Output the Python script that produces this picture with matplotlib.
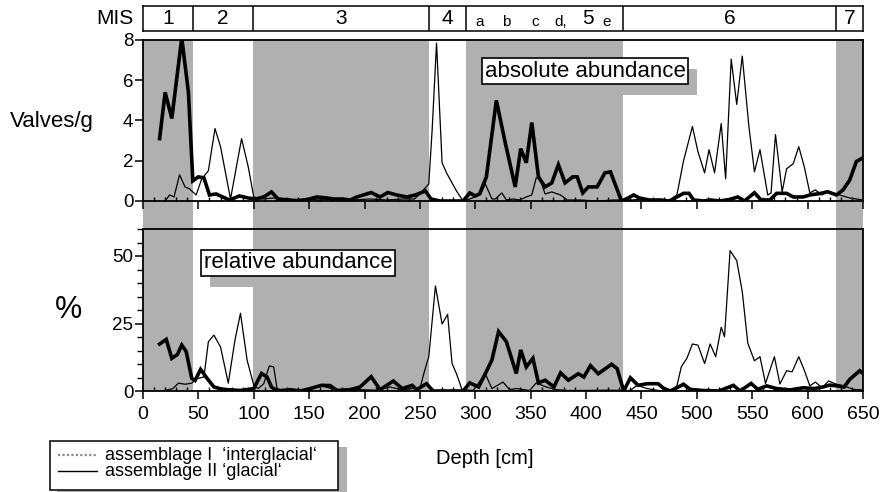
import matplotlib.pyplot as plt
import matplotlib.patheffects as pe
from matplotlib.patches import Rectangle
from matplotlib.lines import Line2D
from matplotlib.ticker import MultipleLocator

plt.rcParams['font.family'] = ['Liberation Sans', 'DejaVu Sans']

# --- absolute abundance (valves/g) ---
abs_I_depth = [15, 20, 26, 35, 41, 45, 50, 55, 60, 66, 72, 78, 87, 95, 102, 109, 116, 122, 132,
               141, 150, 157, 166, 172, 180, 187, 193, 199, 206, 214, 221, 229, 238, 246, 255,
               260, 268, 277, 289, 295, 300, 304, 310, 319, 327, 336, 341, 346, 351, 357, 363,
               369, 375, 381, 388, 392, 397, 402, 410, 417, 422, 432, 438, 443, 448, 457, 467,
               475, 482, 488, 493, 497, 506, 512, 521, 530, 537, 543, 552, 558, 566, 572, 581,
               587, 596, 602, 612, 618, 626, 632, 638, 644, 650]
abs_I = [3.1, 5.4, 4.1, 8.1, 5.4, 1.0, 1.2, 1.15, 0.3, 0.35, 0.2, 0.05, 0.25, 0.15, 0.1, 0.2, 0.45,
         0.1, 0.05, 0.0, 0.1, 0.2, 0.15, 0.1, 0.1, 0.05, 0.2, 0.3, 0.42, 0.2, 0.42, 0.3, 0.2, 0.3,
         0.5, 0.1, 0.0, 0.0, 0.0, 0.4, 0.25, 0.36, 1.2, 5.0, 2.9, 0.7, 2.6, 1.9, 3.9, 1.2, 0.7,
         0.9, 1.8, 0.9, 1.2, 1.2, 0.4, 0.7, 0.7, 1.4, 1.45, 0.0, 0.15, 0.3, 0.15, 0.05, 0.05,
         0.0, 0.2, 0.38, 0.38, 0.05, 0.0, 0.05, 0.0, 0.08, 0.2, 0.0, 0.41, 0.05, 0.05, 0.38, 0.38,
         0.2, 0.2, 0.3, 0.38, 0.46, 0.3, 0.55, 1.04, 1.96, 2.15]

abs_II_depth = [20, 24, 28, 33, 38, 42, 48, 53, 59, 65, 70, 79, 89, 95, 100, 108, 118, 130, 145,
                160, 175, 190, 205, 220, 235, 245, 250, 258, 261, 265, 270, 274, 283, 289, 295,
                304, 309, 315, 318, 324, 328, 334, 340, 346, 351, 355, 358, 363, 369, 377, 383,
                395, 410, 425, 440, 449, 458, 471, 476, 482, 488, 496, 501, 507, 511, 516, 522,
                526, 531, 536, 541, 547, 552, 557, 564, 567, 571, 577, 581, 587, 592, 597, 602,
                607, 613, 617, 623, 629, 638, 650]
abs_II = [0.0, 0.3, 0.2, 1.3, 0.7, 0.6, 0.3, 1.1, 1.5, 3.6, 2.7, 0.1, 3.1, 1.7, 0.2, 0.1, 0.15,
          0.05, 0.1, 0.05, 0.1, 0.05, 0.1, 0.05, 0.1, 0.1, 0.35, 0.85, 3.5, 7.85, 1.9, 1.4, 0.5,
          0.0, 0.1, 0.3, 0.85, 0.1, 0.1, 0.4, 0.05, 0.1, 0.05, 0.2, 0.3, 1.15, 1.15, 0.35, 0.45,
          0.3, 0.05, 0.05, 0.0, 0.05, 0.05, 0.08, 0.05, 0.0, 0.05, 0.3, 2.0, 3.7, 2.45, 1.4, 2.55,
          1.4, 3.85, 1.1, 7.05, 4.8, 7.2, 3.7, 1.45, 2.55, 0.3, 0.4, 3.3, 0.45, 1.6, 1.85, 2.7,
          1.7, 0.4, 0.55, 0.3, 0.45, 0.4, 0.3, 0.15, 0.05]

# --- relative abundance (%) ---
rel_I_depth = [15, 21, 26, 31, 35, 39, 44, 47, 52, 58, 64, 70, 76, 88, 100, 107, 112, 116, 121,
               133, 142, 151, 161, 169, 175, 187, 196, 206, 214, 226, 234, 243, 247, 256, 262,
               275, 289, 295, 303, 309, 315, 321, 328, 337, 341, 346, 352, 357, 363, 371, 377,
               384, 393, 398, 404, 411, 423, 428, 434, 440, 447, 455, 465, 470, 476, 482, 488,
               494, 505, 520, 533, 539, 549, 555, 563, 572, 584, 596, 606, 614, 620, 626, 633,
               638, 647, 650]
rel_I = [17.4, 19.1, 12.1, 13.5, 17.0, 14.6, 4.7, 3.9, 8.0, 4.6, 1.5, 0.8, 0.5, 0.2, 0.9, 6.5,
         5.2, 1.5, 0.0, 0.5, 0.0, 0.9, 2.1, 2.0, 0.2, 0.5, 1.5, 5.3, 0.5, 3.7, 0.9, 2.1, 0.5, 2.7,
         0.0, 0.0, 0.0, 3.0, 1.5, 6.4, 11.5, 22.0, 18.3, 6.5, 15.2, 8.9, 12.1, 3.0, 4.0, 1.5, 6.7,
         4.0, 6.4, 5.2, 9.4, 6.4, 9.9, 8.3, 0.0, 4.9, 2.1, 2.7, 2.7, 1.0, 0.0, 1.2, 2.5, 0.6, 0.2,
         0.0, 2.1, 0.0, 2.8, 0.6, 1.9, 0.9, 0.4, 1.2, 0.9, 1.5, 2.2, 1.9, 1.5, 4.3, 7.5, 6.5]

rel_II_depth = [20, 27, 32, 38, 44, 49, 55, 59, 64, 70, 77, 83, 88, 94, 100, 104, 109, 114, 118,
                121, 127, 140, 150, 160, 170, 180, 195, 210, 223, 235, 241, 250, 254, 258, 264,
                270, 275, 279, 283, 288, 298, 309, 315, 325, 331, 337, 349, 355, 364, 373, 383,
                400, 420, 435, 440, 446, 455, 465, 476, 482, 486, 491, 496, 501, 507, 512, 517,
                522, 525, 530, 536, 541, 546, 552, 557, 562, 570, 575, 581, 586, 592, 597, 602,
                607, 613, 619, 626, 633, 641, 650]
rel_II = [0.2, 0.9, 2.9, 2.5, 2.9, 4.6, 5.2, 18.2, 20.7, 16.3, 2.9, 18.8, 28.8, 11.4, 2.1, 0.9,
          2.7, 9.3, 8.9, 0.9, 0.2, 0.5, 0.3, 2.1, 0.9, 0.3, 0.5, 0.3, 1.5, 0.3, 0.9, 0.9, 7.2,
          12.7, 38.9, 24.8, 28.4, 10.2, 6.4, 0.5, 0.2, 6.4, 0.9, 3.3, 0.5, 0.9, 0.2, 3.0, 1.5,
          0.5, 0.2, 0.2, 0.3, 0.2, 0.2, 2.1, 0.9, 0.2, 0.0, 1.9, 9.0, 12.1, 17.4, 17.0, 10.2,
          17.4, 12.7, 23.6, 20.1, 52.0, 48.3, 36.8, 17.7, 11.2, 12.7, 2.8, 12.7, 2.6, 7.5, 7.1,
          12.7, 7.7, 1.9, 3.3, 1.2, 3.7, 2.5, 1.9, 0.6, 0.4]

# marine isotope stages
mis_bounds = [0, 45, 99, 258, 292, 433, 626, 650]
mis_labels = ['1', '2', '3', '4', '', '6', '7']
warm_stages = [(0, 45), (99, 258), (292, 433), (626, 650)]

W, H = 886, 492
shade = '#b0b0b0'


def fx(px):
    return px / W


def fy(py):
    return 1 - py / H


x0, x1 = 143, 863
up_top, up_bot = 40, 201
lo_top, lo_bot = 229, 391

fig = plt.figure(figsize=(W / 100, H / 100), dpi=100)

# shaded stages run through both panels
ax_bg = fig.add_axes([fx(x0), fy(lo_bot), fx(x1) - fx(x0), fy(up_top) - fy(lo_bot)])
ax_bg.set_xlim(0, 650)
ax_bg.axis('off')
for a, b in warm_stages:
    ax_bg.axvspan(a, b, color=shade, lw=0)

ax_up = fig.add_axes([fx(x0), fy(up_bot), fx(x1) - fx(x0), fy(up_top) - fy(up_bot)], facecolor='none')
ax_lo = fig.add_axes([fx(x0), fy(lo_bot), fx(x1) - fx(x0), fy(lo_top) - fy(lo_bot)], facecolor='none')

ax_up.plot(abs_II_depth, abs_II, color='black', lw=0.9)
ax_up.plot(abs_I_depth, abs_I, color='black', lw=2.6, solid_joinstyle='miter')
ax_lo.plot(rel_II_depth, rel_II, color='black', lw=0.9)
ax_lo.plot(rel_I_depth, rel_I, color='black', lw=2.6, solid_joinstyle='miter')

ax_up.set_ylim(0, 8)
ax_up.set_yticks([0, 2, 4, 6, 8])
ax_lo.set_ylim(0, 60)
ax_lo.set_yticks([0, 25, 50])
ax_lo.yaxis.set_minor_locator(MultipleLocator(5))

for ax in (ax_up, ax_lo):
    ax.set_xlim(0, 650)
    ax.xaxis.set_major_locator(MultipleLocator(50))
    ax.xaxis.set_minor_locator(MultipleLocator(10))
    for s in ax.spines.values():
        s.set_linewidth(1.3)
    ax.tick_params(axis='y', which='major', direction='out', length=6, width=1.1,
                   labelsize=13.5, pad=1)
    ax.tick_params(axis='y', which='minor', direction='out', length=4, width=1)
    ax.tick_params(axis='x', which='major', direction='out', length=6, width=1.1,
                   labelsize=14, pad=5)
    ax.tick_params(axis='x', which='minor', direction='in', length=3, width=1)
ax_up.tick_params(axis='x', labelbottom=False)

box_shadow = [pe.withSimplePatchShadow(offset=(6.5, -8), shadow_rgbFace=shade, alpha=1)]
t1 = ax_up.text(399, 6.45, 'absolute abundance', fontsize=16, ha='center', va='center',
                bbox=dict(boxstyle='square,pad=0.12', fc='white', ec='black', lw=1.2))
t1.get_bbox_patch().set_path_effects(box_shadow)
t2 = ax_lo.text(140, 47.5, 'relative abundance', fontsize=16, ha='center', va='center',
                bbox=dict(boxstyle='square,pad=0.12', fc='white', ec='black', lw=1.2))
t2.get_bbox_patch().set_path_effects(box_shadow)

fig.text(fx(10), fy(121), 'Valves/g', fontsize=16, ha='left', va='center')
fig.text(fx(69), fy(310), '%', fontsize=22, ha='center', va='center')
fig.text(fx(485), fy(458), 'Depth [cm]', fontsize=14.5, ha='center', va='center')

# MIS stage bar
ax_mis = fig.add_axes([fx(x0), fy(31), fx(x1) - fx(x0), fy(6) - fy(31)])
ax_mis.set_xlim(0, 650)
ax_mis.set_ylim(0, 1)
ax_mis.set_xticks([])
ax_mis.set_yticks([])
for s in ax_mis.spines.values():
    s.set_linewidth(1.1)
for b in mis_bounds[1:-1]:
    ax_mis.axvline(b, color='black', lw=1.1)
for a, b, lab in zip(mis_bounds[:-1], mis_bounds[1:], mis_labels):
    ax_mis.text((a + b) / 2, 0.5, lab, fontsize=15, ha='center', va='center')
for d, lab in [(304, 'a'), (328, 'b'), (354, 'c'), (377, 'd,')]:
    ax_mis.text(d, 0.1, lab, fontsize=11, ha='center', va='bottom')
ax_mis.text(402, 0.5, '5', fontsize=15, ha='center', va='center')
ax_mis.text(419, 0.1, 'e', fontsize=11, ha='center', va='bottom')
fig.text(fx(133), fy(18), 'MIS', fontsize=15, ha='right', va='center')

# legend box
fig.patches.append(Rectangle((fx(57), fy(492)), fx(347) - fx(57), fy(447) - fy(492),
                             transform=fig.transFigure, fc=shade, ec='none', zorder=1))
fig.patches.append(Rectangle((fx(50), fy(490)), fx(338) - fx(50), fy(441) - fy(490),
                             transform=fig.transFigure, fc='white', ec='black', lw=1.1, zorder=2))
fig.lines.append(Line2D([fx(58), fx(97)], [fy(455), fy(455)], transform=fig.transFigure,
                        color='#8a8a8a', lw=1.6, ls=(0, (1, 1)), zorder=3))
fig.lines.append(Line2D([fx(58), fx(97)], [fy(471), fy(471)], transform=fig.transFigure,
                        color='black', lw=1.0, zorder=3))
fig.text(fx(105), fy(455), 'assemblage I  \u2018interglacial\u2018', fontsize=13,
         ha='left', va='center', zorder=4)
fig.text(fx(105), fy(471), 'assemblage II \u2018glacial\u2018', fontsize=13,
         ha='left', va='center', zorder=4)

fig.savefig('out.png', dpi=100)
